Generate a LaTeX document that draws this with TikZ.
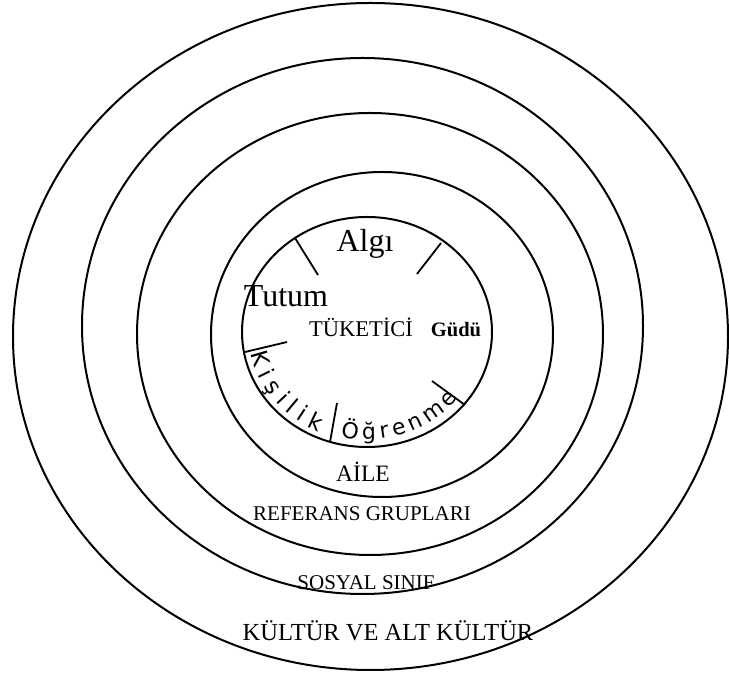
\documentclass[tikz,border=0pt]{standalone}
\usepackage{fontspec}
\setmainfont{Liberation Serif}
\newfontfamily\handfont{DejaVu Sans}
\usetikzlibrary{decorations.text}
\begin{document}
\begin{tikzpicture}[x=1pt,y=1pt,
  ring/.style={line width=2pt},
  tickline/.style={line width=1.8pt},
  lbl/.style={inner sep=0pt, anchor=base, font=\fontsize{21}{21}\selectfont}]
\useasboundingbox (0,0) rectangle (729,677);
% rings
\draw[ring] (370.5,340.5) ellipse[x radius=357.5, y radius=333.5];
\draw[ring] (362.5,351) ellipse[x radius=280.5, y radius=268];
\draw[ring] (370,343) ellipse[x radius=233, y radius=221];
\draw[ring] (382,342.5) ellipse[x radius=171, y radius=162.5];
\draw[ring] (367,345) ellipse[x radius=125, y radius=115];
% ticks
\coordinate (t1a) at (295,439); \coordinate (t1b) at (318,402);
\coordinate (t2a) at (441,434); \coordinate (t2b) at (417,403);
\coordinate (t3a) at (245,325); \coordinate (t3b) at (287,335);
\coordinate (t4a) at (465,272); \coordinate (t4b) at (432,296);
\coordinate (t5a) at (330,235); \coordinate (t5b) at (337,274);
\draw[tickline] (t1a) -- (t1b);
\draw[tickline] (t2a) -- (t2b);
\draw[tickline] (t3a) -- (t3b);
\draw[tickline] (t4a) -- (t4b);
\draw[tickline] (t5a) -- (t5b);
% labels
\node[lbl, font=\fontsize{32}{32}\selectfont] (algi) at (365,425) {Algı};
\node[lbl, font=\fontsize{32}{32}\selectfont] (tutum) at (286,370) {Tutum};
\node[lbl, font=\fontsize{22.5}{22.5}\selectfont] (tuketici) at (361,340) {TÜKETİCİ};
\node[lbl, font=\bfseries\fontsize{20.5}{20.5}\selectfont] (gudu) at (456,340) {Güdü};
\node[lbl, font=\fontsize{23.5}{23.5}\selectfont] (aile) at (363,195) {AİLE};
\node[lbl] (ref) at (362,156) {REFERANS GRUPLARI};
\node[lbl, font=\fontsize{21}{21}\selectfont] (sosyal) at (366,87) {SOSYAL SINIF};
\node[lbl, font=\fontsize{24.5}{24.5}\selectfont] (kultur) at (388,36) {KÜLTÜR VE ALT KÜLTÜR};
% handwritten labels along the inner ring
\path[decorate, decoration={text along path, text align=fit to path,
  text={|\handfont\fontsize{23}{23}\selectfont|Kişilik}}]
  (250.8,323.5) arc[start angle=191, end angle=246, x radius=118, y radius=108];
\path[decorate, decoration={text along path, text align=fit to path,
  text={|\handfont\fontsize{22}{22}\selectfont|Öğrenme}}]
  (340.6,240.2) arc[start angle=257, end angle=322, x radius=116, y radius=107];
\end{tikzpicture}
\end{document}
